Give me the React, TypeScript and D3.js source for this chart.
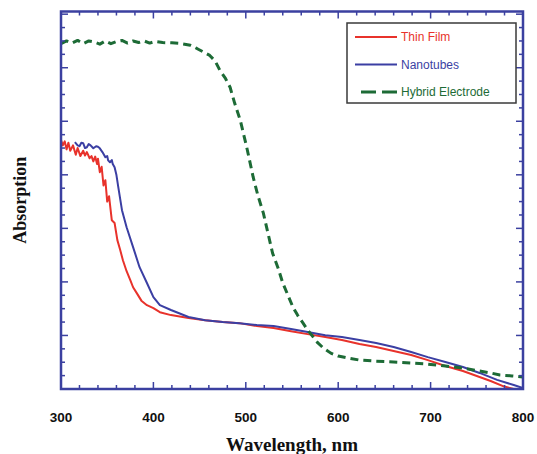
import React, { useEffect, useRef } from 'react';
import * as d3 from 'd3';

// wavelength (nm) / absorption (a.u.)
const thinFilmNm = [300, 302, 304, 306, 308, 310, 313, 316, 318, 321, 324, 326, 328, 331, 333, 335, 337, 339, 340, 342, 344, 346, 348, 350, 352, 355, 358, 361, 364, 367, 371, 375, 378, 382, 387, 393, 400, 407, 419, 438, 456, 475, 493, 512, 530, 549, 567, 586, 604, 623, 641, 660, 679, 697, 716, 735, 753, 765, 779, 790];
const thinFilmAbs = [0.93, 0.91, 0.925, 0.895, 0.92, 0.89, 0.91, 0.875, 0.9, 0.87, 0.89, 0.872, 0.885, 0.862, 0.87, 0.85, 0.868, 0.84, 0.86, 0.81, 0.83, 0.76, 0.78, 0.7, 0.72, 0.63, 0.62, 0.556, 0.52, 0.481, 0.44, 0.407, 0.38, 0.358, 0.33, 0.313, 0.302, 0.287, 0.276, 0.265, 0.257, 0.25, 0.246, 0.235, 0.228, 0.216, 0.205, 0.194, 0.183, 0.168, 0.157, 0.142, 0.127, 0.108, 0.086, 0.067, 0.045, 0.03, 0.01, 0.0];

const nanotubeNm = [315, 318, 320, 322, 324, 326, 328, 330, 332, 335, 338, 340, 342, 345, 348, 350, 351, 353, 355, 356, 358, 360, 362, 366, 371, 378, 385, 393, 400, 407, 419, 438, 456, 475, 493, 512, 530, 549, 567, 586, 604, 623, 641, 660, 679, 697, 716, 735, 753, 772, 790, 800];
const nanotubeAbs = [0.922, 0.91, 0.907, 0.92, 0.918, 0.9, 0.903, 0.915, 0.91, 0.899, 0.907, 0.905, 0.899, 0.884, 0.866, 0.87, 0.854, 0.847, 0.855, 0.84, 0.828, 0.799, 0.754, 0.668, 0.604, 0.53, 0.455, 0.396, 0.343, 0.313, 0.295, 0.269, 0.257, 0.25, 0.246, 0.239, 0.235, 0.224, 0.213, 0.201, 0.194, 0.183, 0.172, 0.157, 0.138, 0.119, 0.101, 0.082, 0.06, 0.034, 0.015, 0.004];

const hybridNm = [300, 306, 312, 318, 324, 330, 336, 342, 348, 354, 360, 366, 372, 378, 384, 390, 396, 402, 410, 420, 429, 440, 447, 455, 461, 467, 472, 478, 483, 488, 494, 501, 508, 513, 519, 524, 529, 535, 540, 546, 551, 556, 562, 567, 573, 578, 584, 592, 600, 610, 623, 641, 660, 679, 697, 716, 735, 753, 765, 775, 788, 800];
const hybridAbs = [1.29, 1.3, 1.292, 1.302, 1.29, 1.3, 1.296, 1.288, 1.3, 1.29, 1.298, 1.302, 1.292, 1.3, 1.294, 1.3, 1.292, 1.298, 1.294, 1.293, 1.291, 1.284, 1.272, 1.257, 1.246, 1.224, 1.19, 1.16, 1.127, 1.067, 1.004, 0.903, 0.791, 0.724, 0.657, 0.582, 0.507, 0.451, 0.396, 0.347, 0.306, 0.276, 0.246, 0.22, 0.194, 0.172, 0.153, 0.134, 0.123, 0.116, 0.108, 0.104, 0.101, 0.097, 0.093, 0.086, 0.078, 0.067, 0.06, 0.052, 0.049, 0.045];

const wavelengthTicks = [300, 400, 500, 600, 700, 800];
const seriesNames = ['Thin Film', 'Nanotubes', 'Hybrid Electrode'];
const seriesColors = ['#e8322b', '#3b3fa3', '#1d6b36'];

const W = 537, H = 454;
const margin = { left: 61, right: 14, top: 11.5, bottom: 65 };
const axisColor = '#3b40a0';

export default function App() {
  const ref = useRef<SVGGElement>(null);

  const x = d3.scaleLinear().domain([300, 800]).range([margin.left, W - margin.right]);
  const y = d3.scaleLinear().domain([0, 1.41]).range([H - margin.bottom, margin.top]);

  useEffect(() => {
    const g = d3.select(ref.current);
    g.selectAll('*').remove();

    const clip = g.append('clipPath').attr('id', 'plotclip');
    clip.append('rect')
      .attr('x', x(300)).attr('y', y(1.41))
      .attr('width', x(800) - x(300)).attr('height', y(0) - y(1.41));

    const line = d3.line<[number, number]>()
      .x(d => x(d[0]))
      .y(d => y(d[1]))
      .curve(d3.curveLinear);

    const plot = g.append('g').attr('clip-path', 'url(#plotclip)');

    const series: [number[], number[]][] = [
      [thinFilmNm, thinFilmAbs],
      [nanotubeNm, nanotubeAbs],
      [hybridNm, hybridAbs],
    ];
    series.forEach(([xs, ys], i) => {
      const pts = xs.map((v, k) => [v, ys[k]] as [number, number]);
      plot.append('path')
        .attr('d', line(pts) as string)
        .attr('fill', 'none')
        .attr('stroke', seriesColors[i])
        .attr('stroke-width', i === 2 ? 3 : 2)
        .attr('stroke-dasharray', i === 2 ? '8,5' : null)
        .attr('stroke-linejoin', 'round');
    });

    // ticks, all pointing inward
    const ticks = g.append('g').attr('stroke', axisColor).attr('stroke-width', 1.5);
    const x0 = x(300), x1 = x(800), y0 = y(0), y1 = y(1.41);
    x.ticks(25).forEach(t => {
      const len = t % 100 === 0 ? 7 : 4;
      ticks.append('line').attr('x1', x(t)).attr('x2', x(t)).attr('y1', y0).attr('y2', y0 - len);
      ticks.append('line').attr('x1', x(t)).attr('x2', x(t)).attr('y1', y1).attr('y2', y1 + len);
    });
    d3.range(0, 1.41, 0.05).forEach((t, k) => {
      const len = k % 4 === 0 ? 7 : 4;
      ticks.append('line').attr('x1', x0).attr('x2', x0 + len).attr('y1', y(t)).attr('y2', y(t));
      ticks.append('line').attr('x1', x1).attr('x2', x1 - len).attr('y1', y(t)).attr('y2', y(t));
    });

    g.append('rect')
      .attr('x', x0).attr('y', y1)
      .attr('width', x1 - x0).attr('height', y0 - y1)
      .attr('fill', 'none').attr('stroke', axisColor).attr('stroke-width', 2.5);

    g.append('g').selectAll('text').data(wavelengthTicks).join('text')
      .attr('x', d => x(d)).attr('y', 422)
      .attr('text-anchor', 'middle')
      .attr('font-family', '"Liberation Sans", Arial, sans-serif')
      .attr('font-weight', 'bold').attr('font-size', 13.5)
      .attr('fill', '#111')
      .text(d => d);

    g.append('text')
      .attr('x', (x0 + x1) / 2).attr('y', 451)
      .attr('text-anchor', 'middle')
      .attr('font-family', '"Liberation Serif", "Times New Roman", serif')
      .attr('font-weight', 'bold').attr('font-size', 19)
      .attr('fill', '#111')
      .text('Wavelength, nm');

    g.append('text')
      .attr('transform', `translate(26,${(y0 + y1) / 2}) rotate(-90)`)
      .attr('text-anchor', 'middle')
      .attr('font-family', '"Liberation Serif", "Times New Roman", serif')
      .attr('font-weight', 'bold').attr('font-size', 18)
      .attr('fill', '#111')
      .text('Absorption');

    // legend
    const lg = g.append('g').attr('transform', 'translate(347,23)');
    lg.append('rect').attr('width', 169).attr('height', 80)
      .attr('fill', '#fff').attr('stroke', '#3a3a3a').attr('stroke-width', 1.5);
    seriesNames.forEach((name, i) => {
      const ly = 14 + i * 27.5;
      lg.append('line')
        .attr('x1', i === 2 ? 14 : 8).attr('x2', 50).attr('y1', ly).attr('y2', ly)
        .attr('stroke', seriesColors[i])
        .attr('stroke-width', i === 2 ? 3 : 2)
        .attr('stroke-dasharray', i === 2 ? '15,6' : null);
      lg.append('text')
        .attr('x', 54).attr('y', ly + 4)
        .attr('font-family', '"Liberation Sans", Arial, sans-serif')
        .attr('font-size', 12)
        .attr('fill', seriesColors[i])
        .text(name);
    });
  }, []);

  return (
    <svg width={W} height={H} style={{ position: 'absolute', left: 0, top: 0, background: '#fff' }}>
      <g ref={ref} />
    </svg>
  );
}
